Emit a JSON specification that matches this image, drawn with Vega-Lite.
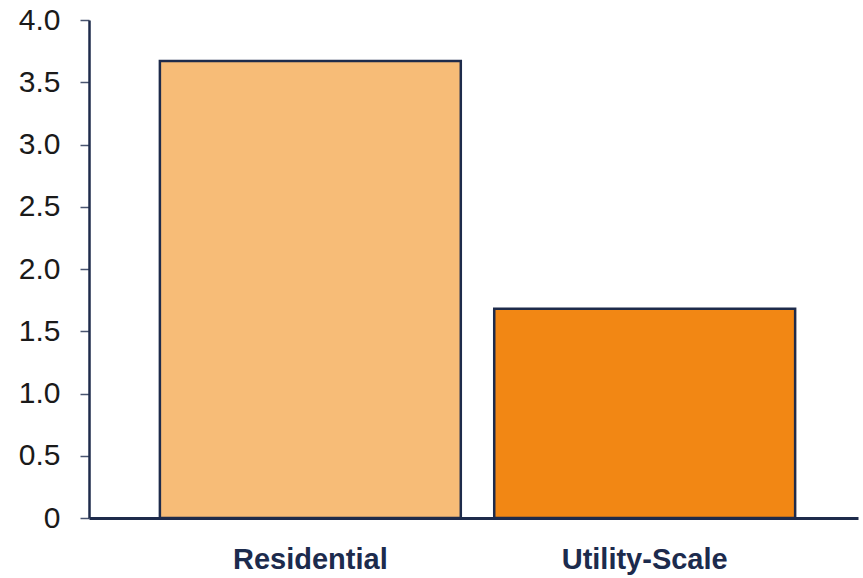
{
  "$schema": "https://vega.github.io/schema/vega-lite/v6.json",
  "width": 769,
  "height": 498,
  "autosize": {"type": "none"},
  "padding": {"left": 89, "top": 20, "right": 5, "bottom": 60},
  "background": "white",
  "config": {"view": {"stroke": null}},
  "data": {"values": [
    {"category": "Residential", "value": 3.67},
    {"category": "Utility-Scale", "value": 1.68}
  ]},
  "mark": {"type": "bar", "stroke": "#1e2b4b", "strokeWidth": 2.5},
  "encoding": {
    "x": {
      "field": "category", "type": "nominal", "sort": null,
      "scale": {"paddingInner": 0.1, "paddingOuter": 0.2, "align": 0.53},
      "axis": {
        "title": null, "labelAngle": 0, "ticks": false, "labelLimit": 0,
        "domainColor": "#1e2b4b", "domainWidth": 3,
        "labelFont": "Liberation Sans, Arial, sans-serif",
        "labelFontSize": 29, "labelFontWeight": "bold", "labelColor": "#1c2b4d",
        "labelPadding": 27
      }
    },
    "y": {
      "field": "value", "type": "quantitative",
      "scale": {"domain": [0, 4]},
      "axis": {
        "title": null, "grid": false, "values": [0, 0.5, 1, 1.5, 2, 2.5, 3, 3.5, 4],
        "labelExpr": "datum.value == 0 ? '0' : format(datum.value, '.1f')",
        "domainColor": "#1e2b4b", "domainWidth": 2.5,
        "tickColor": "#4a5570", "tickSize": 9, "tickWidth": 1.5,
        "labelFont": "Liberation Sans, Arial, sans-serif",
        "labelFontSize": 30, "labelColor": "#1a1a1a", "labelPadding": 20
      }
    },
    "fill": {
      "field": "category", "type": "nominal", "legend": null,
      "scale": {"domain": ["Residential", "Utility-Scale"], "range": ["#F7BC77", "#F28714"]}
    }
  }
}
